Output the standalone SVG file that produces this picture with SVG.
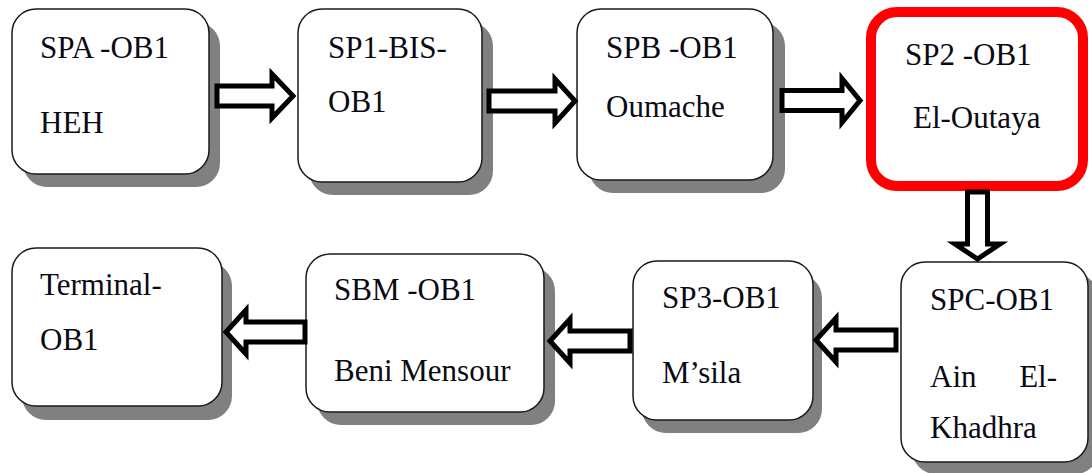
<svg xmlns="http://www.w3.org/2000/svg" width="1092" height="473" viewBox="0 0 1092 473">
  <style>
    .shadow { fill: #808080; }
    .box { fill: #ffffff; stroke: #1a1a1a; stroke-width: 1.5; }
    .hot { fill: #ffffff; stroke: #ff0000; stroke-width: 10; }
    .lbl { font-size: 31px; fill: #0a0a14; }
    .arrow { fill: #ffffff; stroke: #000000; stroke-width: 5; stroke-linejoin: miter; stroke-miterlimit: 10; }
  </style>

  <g font-family="'Liberation Serif', 'DejaVu Serif', serif">
  <!-- top row -->
  <g id="spa-ob1">
    <rect class="shadow" x="23" y="22" width="197" height="165" rx="24"/>
    <rect class="box" x="12" y="9" width="197" height="165" rx="24"/>
    <text class="lbl" x="40" y="58">SPA -OB1</text>
    <text class="lbl" x="40" y="133">HEH</text>
  </g>

  <g id="sp1-bis-ob1">
    <rect class="shadow" x="309" y="22" width="184" height="173" rx="24"/>
    <rect class="box" x="298" y="9" width="184" height="173" rx="24"/>
    <text class="lbl" x="328" y="58">SP1-BIS-</text>
    <text class="lbl" x="328" y="112">OB1</text>
  </g>

  <g id="spb-ob1">
    <rect class="shadow" x="589" y="22" width="196" height="171" rx="24"/>
    <rect class="box" x="577" y="9" width="196" height="171" rx="24"/>
    <text class="lbl" x="606" y="58">SPB -OB1</text>
    <text class="lbl" x="606" y="117">Oumache</text>
  </g>

  <g id="sp2-ob1">
    <rect class="hot" x="871" y="12" width="212" height="174" rx="26"/>
    <text class="lbl" x="905" y="65">SP2 -OB1</text>
    <text class="lbl" x="913" y="128">El-Outaya</text>
  </g>

  <!-- bottom row -->
  <g id="spc-ob1">
    <rect class="shadow" x="912" y="274" width="187" height="200" rx="24"/>
    <rect class="box" x="901" y="262" width="187" height="200" rx="24"/>
    <text class="lbl" x="930" y="310">SPC-OB1</text>
    <text class="lbl" x="930" y="387">Ain</text>
    <text class="lbl" x="1057" y="387" text-anchor="end">El-</text>
    <text class="lbl" x="930" y="438">Khadhra</text>
  </g>

  <g id="sp3-ob1">
    <rect class="shadow" x="642" y="274" width="180" height="159" rx="24"/>
    <rect class="box" x="633" y="261" width="180" height="159" rx="24"/>
    <text class="lbl" x="662" y="308">SP3-OB1</text>
    <text class="lbl" x="662" y="383">M’sila</text>
  </g>

  <g id="sbm-ob1">
    <rect class="shadow" x="317" y="267" width="238" height="158" rx="24"/>
    <rect class="box" x="306" y="254" width="238" height="158" rx="24"/>
    <text class="lbl" x="334" y="300">SBM -OB1</text>
    <text class="lbl" x="334" y="381">Beni Mensour</text>
  </g>

  <g id="terminal-ob1">
    <rect class="shadow" x="22" y="262" width="210" height="158" rx="24"/>
    <rect class="box" x="12" y="248" width="210" height="158" rx="24"/>
    <text class="lbl" x="40" y="295">Terminal-</text>
    <text class="lbl" x="40" y="350">OB1</text>
  </g>
  </g>

  <!-- hollow block arrows between stations -->
  <g id="connectors">
    <polygon class="arrow" points="217,86 272,86 272,74 293,96 272,118 272,106 217,106"/>
    <polygon class="arrow" points="489,91 555,91 555,79 575,101 555,123 555,111 489,111"/>
    <polygon class="arrow" points="782,90.5 842,90.5 842,78.5 860,100.5 842,122.5 842,110.5 782,110.5"/>
    <polygon class="arrow" points="967.5,192 987.5,192 987.5,244 1000,244 977.5,259 955,244 967.5,244"/>
    <polygon class="arrow" points="896,330 836,330 836,318 816,340 836,362 836,350 896,350"/>
    <polygon class="arrow" points="630,331 570,331 570,319 550,341 570,363 570,351 630,351"/>
    <polygon class="arrow" points="305,322 246,322 246,310 226,332 246,354 246,342 305,342"/>
  </g>
</svg>
